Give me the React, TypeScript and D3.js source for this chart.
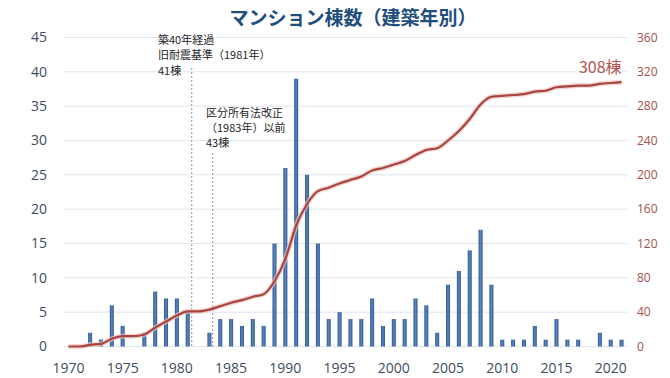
import React from "react";
import * as d3 from "d3";

const years: number[] = [
  1970, 1971, 1972, 1973, 1974, 1975, 1976, 1977, 1978, 1979,
  1980, 1981, 1982, 1983, 1984, 1985, 1986, 1987, 1988, 1989,
  1990, 1991, 1992, 1993, 1994, 1995, 1996, 1997, 1998, 1999,
  2000, 2001, 2002, 2003, 2004, 2005, 2006, 2007, 2008, 2009,
  2010, 2011, 2012, 2013, 2014, 2015, 2016, 2017, 2018, 2019,
  2020, 2021,
];
const counts: number[] = [
  0, 0, 2, 1, 6, 3, 0, 2, 8, 7,
  7, 5, 0, 2, 4, 4, 3, 4, 3, 15,
  26, 39, 25, 15, 4, 5, 4, 4, 7, 3,
  4, 4, 7, 6, 2, 9, 11, 14, 17, 9,
  1, 1, 1, 3, 1, 4, 1, 1, 0, 2,
  1, 1,
];
const leftTicks: number[] = [0, 5, 10, 15, 20, 25, 30, 35, 40, 45];
const rightTicks: number[] = [0, 40, 80, 120, 160, 200, 240, 280, 320, 360];
const xTickYears: number[] = [1970, 1975, 1980, 1985, 1990, 1995, 2000, 2005, 2010, 2015, 2020];
const title = "マンション棟数（建築年別）";
const note1Year = 1981;
const note1Lines: string[] = ["築40年経過", "旧耐震基準（1981年）", "41棟"];
const note2Year = 1983;
const note2Lines: string[] = ["区分所有法改正", "（1983年）以前", "43棟"];
const endLabel = "308棟";

const W = 670;
const H = 378;
const plotL = 63;
const plotR = 627;
const plotT = 37.5;
const plotB = 346.5;

export default function App() {
  const cumulative = Array.from(d3.cumsum(counts));
  const x = d3
    .scaleBand<number>()
    .domain(years)
    .range([plotL, plotR])
    .paddingInner(0.63)
    .paddingOuter(0.315);
  const xc = (yr: number) => (x(yr) as number) + x.bandwidth() / 2;
  const yL = d3.scaleLinear().domain([0, 45]).range([plotB, plotT]);
  const yR = d3.scaleLinear().domain([0, 360]).range([plotB, plotT]);

  const lineGen = d3
    .line<number>()
    .x((_, i) => xc(years[i]))
    .y((d) => yR(d))
    .curve(d3.curveMonotoneX);
  const linePath = lineGen(cumulative) || "";

  const axisColor = "#3e4c5e";
  const rightColor = "#a5504b";
  const numFont = "'Open Sans', 'Noto Sans', sans-serif";
  const jpFont = "'Noto Sans CJK JP', sans-serif";

  const n1x = xc(note1Year) + 4;
  const n2x = xc(note2Year) + 3.3;
  const lastI = years.length - 1;

  return (
    <svg
      width={W}
      height={H}
      style={{ position: "absolute", left: 0, top: 0, background: "#fff" }}
    >
      <defs>
        <linearGradient id="barGrad" x1="0" x2="1" y1="0" y2="0">
          <stop offset="0%" stopColor="#2c548a" />
          <stop offset="50%" stopColor="#5a86c2" />
          <stop offset="100%" stopColor="#2c548a" />
        </linearGradient>
      </defs>
      <rect x={0} y={0} width={W} height={H} fill="#fff" />
      <text
        x={353}
        y={25}
        textAnchor="middle"
        fontFamily={jpFont}
        fontWeight={700}
        fontSize={19}
        fill="#1f4e7d"
      >
        {title}
      </text>
      {leftTicks.map((t) => (
        <g key={"g" + t}>
          <line
            x1={plotL}
            x2={plotR}
            y1={yL(t)}
            y2={yL(t)}
            stroke="#dfe6ee"
            strokeWidth={1}
          />
          <text
            x={47}
            y={yL(t)}
            dy="0.35em"
            textAnchor="end"
            fontFamily={numFont}
            fontSize={14}
            fill={axisColor}
          >
            {t}
          </text>
        </g>
      ))}
      {rightTicks.map((t) => (
        <text
          key={"r" + t}
          x={637}
          y={yR(t)}
          dy="0.35em"
          textAnchor="start"
          fontFamily={numFont}
          fontSize={12}
          fill={rightColor}
        >
          {t}
        </text>
      ))}
      {xTickYears.map((yr) => (
        <text
          key={"x" + yr}
          x={xc(yr)}
          y={368}
          dy="0.35em"
          textAnchor="middle"
          fontFamily={numFont}
          fontSize={14}
          fill={axisColor}
        >
          {yr}
        </text>
      ))}
      {years.map((yr, i) =>
        counts[i] > 0 ? (
          <rect
            key={"b" + yr}
            x={x(yr)}
            y={yL(counts[i])}
            width={x.bandwidth()}
            height={plotB - yL(counts[i])}
            fill="url(#barGrad)"
          />
        ) : null
      )}
      <line
        x1={n1x}
        x2={n1x}
        y1={68}
        y2={plotB}
        stroke="#8a96a6"
        strokeWidth={1}
        strokeDasharray="2,2"
      />
      <line
        x1={n2x}
        x2={n2x}
        y1={153}
        y2={plotB}
        stroke="#8a96a6"
        strokeWidth={1}
        strokeDasharray="2,2"
      />
      {note1Lines.map((s, i) => (
        <text
          key={"n1" + i}
          x={158}
          y={40 + i * 15.5}
          dy="0.35em"
          fontFamily={jpFont}
          fontSize={11}
          fill="#262626"
        >
          {s}
        </text>
      ))}
      {note2Lines.map((s, i) => (
        <text
          key={"n2" + i}
          x={206}
          y={113 + i * 15}
          dy="0.35em"
          fontFamily={jpFont}
          fontSize={11}
          fill="#262626"
        >
          {s}
        </text>
      ))}
      <path d={linePath} fill="none" stroke="#e9c6c2" strokeWidth={5} opacity={0.7} />
      <path d={linePath} fill="none" stroke="#a9443f" strokeWidth={2.2} />
      <text
        x={xc(years[lastI])}
        y={yR(cumulative[lastI]) - 15}
        dy="0.35em"
        textAnchor="end"
        fontFamily={jpFont}
        fontSize={16}
        fill="#b4534e"
      >
        {endLabel}
      </text>
    </svg>
  );
}
